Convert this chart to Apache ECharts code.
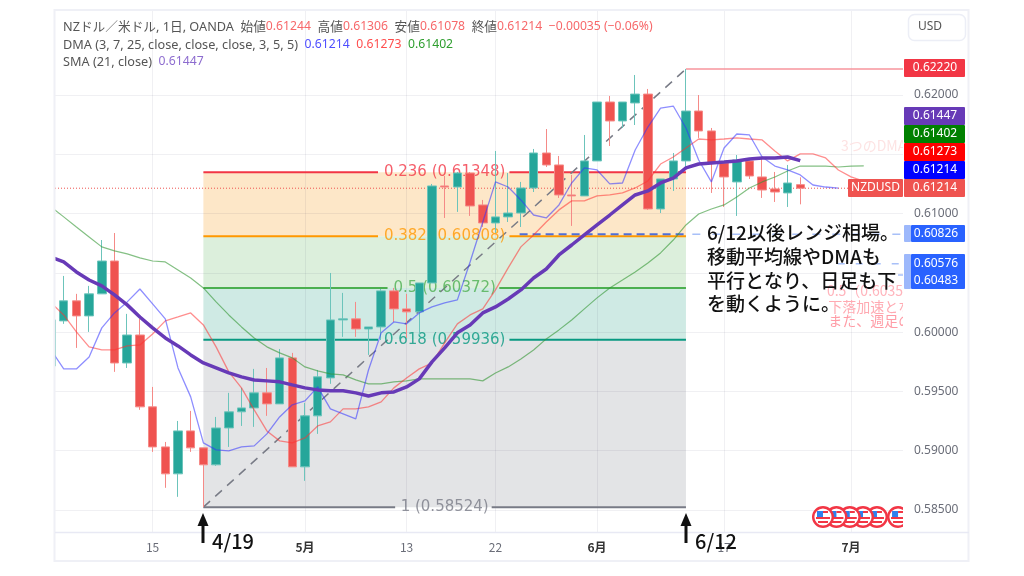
<!DOCTYPE html>
<html>
<head>
<meta charset="utf-8">
<style>
  html, body { margin: 0; padding: 0; background: #fff; }
  #chart { width: 1024px; height: 576px; }
</style>
</head>
<body>
<div id="chart"></div>
<script src="https://cdn.jsdelivr.net/npm/echarts@6/dist/echarts.min.js"></script>
<script>
const FONT = '"Noto Sans", "Noto Sans CJK JP", sans-serif'
const FONT_JP = '"Noto Sans CJK JP", sans-serif'
const FONT_FIB = '"DejaVu Sans", sans-serif'

// 日足 [始値, 終値, 安値, 高値] 横軸はローソク足の番号
const ohlc = [
  [.59715,.60103,.59700,.60110],[.60095,.60264,.60070,.60474],[.60264,.60137,.59867,.60323],[.60137,.60323,.60002,.60390],
  [.60323,.60600,.60323,.60777],[.60600,.59740,.59665,.60836],[.59740,.59976,.59698,.60154],[.59976,.59370,.59345,.60112],
  [.59370,.59032,.58990,.59538],[.59032,.58805,.58687,.59074],[.58805,.59167,.58611,.59251],[.59167,.59024,.58990,.59336],
  [.59024,.58881,.58524,.59024],[.58881,.59192,.58872,.59285],[.59192,.59328,.59032,.59488],[.59328,.59361,.59209,.59530],
  [.59361,.59488,.59201,.59690],[.59488,.59395,.59294,.59698],[.59395,.59783,.59395,.59858],[.59783,.58864,.58864,.59825],
  [.58864,.59294,.58746,.59404],[.59294,.59623,.59142,.59681],[.59614,.60103,.59564,.60499],[.60103,.60112,.59960,.60331],
  [.60112,.60027,.59960,.60255],[.60027,.60044,.59808,.60044],[.60044,.60348,.59934,.60364],[.60348,.60196,.60086,.60373],
  [.60196,.60171,.59951,.60323],[.60171,.60415,.59976,.60415],[.60415,.61233,.60415,.61250],[.61233,.61224,.60963,.61317],
  [.61224,.61342,.61014,.61351],[.61342,.61064,.60980,.61351],[.61073,.60921,.60887,.61115],[.60921,.60972,.60837,.61528],
  [.60972,.61005,.60929,.61342],[.61005,.61216,.60887,.61267],[.61216,.61511,.61182,.61545],[.61511,.61410,.61393,.61713],
  [.61410,.61157,.61132,.61486],[.61157,.61149,.60896,.61326],[.61149,.61444,.61149,.61663],[.61444,.61941,.61444,.61941],
  [.61941,.61781,.61570,.61992],[.61781,.61941,.61722,.61941],[.61933,.62008,.61747,.62169],[.62008,.61039,.61031,.62051],
  [.61039,.61292,.61005,.61292],[.61292,.61444,.61191,.61511],[.61444,.61865,.61393,.62220],[.61865,.61697,.61638,.62000],
  [.61697,.61427,.61174,.61722],[.61427,.61309,.61056,.61427],[.61267,.61452,.60980,.61494],[.61444,.61317,.61292,.61469],
  [.61309,.61199,.61132,.61477],[.61208,.61182,.61098,.61351],[.61174,.61258,.61056,.61410],[.61244,.61214,.61078,.61306]
]

const dmaFast = [
  .59850,.59690,.59690,.59791,.60036,.60162,.60255,.60364,.60238,.60112,.59698,.59454,.59066,.59007,.58999,.59032,
  .59041,.59142,.59285,.59387,.59420,.59538,.59353,.59311,.59269,.59681,.59994,.60086,.60070,.60162,.60213,.60247,
  .60272,.60592,.60929,.61267,.61224,.61115,.60988,.60963,.61073,.61258,.61385,.61368,.61250,.61258,.61536,.61730,
  .61890,.61907,.61722,.61452,.61267,.61553,.61671,.61663,.61477,.61401,.61368,.61326,.61241,.61224,.61214
]
const dmaMid = [
  .60247,.60145,.60002,.59876,.59850,.59850,.59884,.59892,.59985,.60095,.60128,.60162,.60061,.59876,.59665,.59530,
  .59345,.59167,.59083,.59066,.59108,.59209,.59243,.59353,.59353,.59370,.59412,.59530,.59614,.59690,.59740,.59909,
  .60070,.60145,.60196,.60356,.60542,.60719,.60820,.60929,.61031,.61107,.61107,.61149,.61157,.61174,.61216,.61275,
  .61418,.61477,.61553,.61629,.61621,.61629,.61638,.61629,.61621,.61528,.61444,.61503,.61503,.61469,.61368,.61309,.61273
]
const dmaSlow = [
  .61056,.60972,.60887,.60803,.60719,.60685,.60660,.60626,.60600,.60592,.60525,.60457,.60373,.60255,.60145,.60044,
  .59951,.59876,.59825,.59783,.59707,.59673,.59648,.59640,.59597,.59564,.59564,.59581,.59589,.59606,.59606,.59606,
  .59606,.59606,.59589,.59656,.59707,.59774,.59850,.59943,.60019,.60103,.60196,.60289,.60373,.60440,.60508,.60584,
  .60668,.60777,.60904,.60997,.61039,.61073,.61140,.61216,.61267,.61309,.61359,.61401,.61401,.61401,.61393,.61401,.61402
]
const sma21 = [
  .60634,.60592,.60508,.60440,.60390,.60314,.60230,.60128,.60036,.59951,.59884,.59808,.59740,.59698,.59656,.59623,
  .59597,.59589,.59581,.59555,.59530,.59513,.59505,.59505,.59488,.59462,.59488,.59496,.59538,.59606,.59749,.59867,
  .59994,.60061,.60162,.60213,.60280,.60356,.60457,.60533,.60651,.60735,.60820,.60904,.60988,.61073,.61157,.61191,
  .61258,.61300,.61385,.61418,.61427,.61435,.61444,.61460,.61469,.61469,.61477,.61447
]

// フィボナッチ
const fibStart = 12
const fibEnd = 50
const fibPrices = [.61348, .60808, .60372, .59936, .58524]
const fibNames = ['0.236 (0.61348)', '0.382 (0.60808)', '0.5 (0.60372)', '0.618 (0.59936)', '1 (0.58524)']
const fibColors = ['#f23645', '#ff9800', '#4caf50', '#089981', '#787b86']
const fibFills = ['rgba(253,227,190,.85)', 'rgba(214,236,214,.85)', 'rgba(199,230,223,.85)', 'rgba(222,223,226,.85)']
const fibGapFrom = [25.75, 25.75, 26.5, 25.75, 27.1]
const fibGapTo = [36.1, 36.1, 35.3, 36.1, 34.7]
const fibLabelAt = 31
const swingHigh = .6222
const swingLow = .58524

const lastClose = .61214
const lineLevel = .60826
const lineLevel2 = .60576
const lineLevel3 = .60483

const xMin = 0.315
const xMax = 67.09
const yMin = .58306
const yMax = .62717
const priceTicks = [.585, .59, .595, .6, .605, .61, .615, .62]
const dateTicks = [8, 20, 28, 35, 43, 53, 63]
const dateLabels = ['15', '5月', '13', '22', '6月', '17', '7月']

// 経済指標アイコン
const flagAt = [66.7, 65.04, 63.94, 62.9, 61.85, 60.79]
const flagPrice = .58441

// 薄く残っている他の描画のテキスト
const faintNotes = [
  ['3つのDMA', 62.2, .61575, '#fde3e3'],
  ['0.5（0.6035', 61.1, .60347, '#ffb4bc'],
  ['下落加速とな', 61.2, .60212, '#ffaab2'],
  ['また、週足の', 61.2, .60095, '#ff9ca6']
]

// 価格ラベル [テキスト, 背景色, 上端, 下端]
const priceTags = [
  ['0.62220', '#f23645', 59, 77],
  ['0.61447', '#673ab7', 107, 125],
  ['0.61402', '#008000', 125, 143],
  ['0.61273', '#ff0000', 143, 161],
  ['0.61214', '#0000ff', 161, 179],
  ['0.61214', '#ef5350', 179, 197]
]

const noteLines = ['6/12以後レンジ相場。', '移動平均線やDMAも', '平行となり、日足も下', 'を動くように。']
const noteTops = [233, 257, 281, 304]

const indexed = arr => arr.map((v, i) => [i, v])

function fibSeries () {
  const list = []
  // 帯は線の下に敷く
  list.push({
    type: 'line',
    data: [],
    z: 1,
    silent: true,
    markArea: {
      silent: true,
      z: 1,
      data: fibFills.map((color, i) => [
        { coord: [fibStart, fibPrices[i]], itemStyle: { color: color, opacity: 1 } },
        { coord: [fibEnd, fibPrices[i + 1]] }
      ])
    }
  })
  fibPrices.forEach((p, i) => {
    const lineStyle = { color: fibColors[i], width: 2 }
    const base = { type: 'line', showSymbol: false, silent: true, z: 3, lineStyle: lineStyle }
    list.push(Object.assign({}, base, { data: [[fibStart, p], [fibGapFrom[i], p]] }))
    list.push(Object.assign({}, base, { data: [[fibGapTo[i], p], [fibEnd, p]] }))
  })
  list.push({
    type: 'scatter',
    symbolSize: 0,
    silent: true,
    z: 3,
    data: fibPrices.map((p, i) => ({
      name: fibNames[i],
      value: [fibLabelAt, p],
      label: { color: fibColors[i] }
    })),
    label: { show: true, position: 'inside', formatter: '{b}', fontSize: 15, fontFamily: FONT_FIB }
  })
  return list
}

function flatLine (data, color, width, dash) {
  return {
    type: 'line',
    data: data,
    showSymbol: false,
    silent: true,
    z: 3,
    lineStyle: { color: color, width: width, type: dash }
  }
}

function trendLine (values, color, width, z) {
  return {
    type: 'line',
    data: indexed(values),
    showSymbol: false,
    silent: true,
    z: z,
    lineStyle: { color: color, width: width }
  }
}

function renderFlag (params, api) {
  const pt = api.coord([api.value(0), api.value(1)])
  const x = pt[0]
  const y = pt[1]
  const red = '#f23645'
  const rect = (rx, ry, w, h, fill) => ({ type: 'rect', shape: { x: rx, y: ry, width: w, height: h }, style: { fill: fill } })
  return {
    type: 'group',
    children: [
      { type: 'circle', shape: { cx: x, cy: y, r: 9.8 }, style: { fill: '#fff', stroke: red, lineWidth: 2.4 } },
      rect(x - 6, y - 6, 6, 6, '#2f80ed'),
      rect(x, y - 6, 5, 2, red),
      rect(x - 7, y, 14, 2, red),
      rect(x - 5, y + 4, 10, 2, red)
    ]
  }
}

function renderNote (params, api) {
  const pt = api.coord([api.value(1), api.value(2)])
  const note = faintNotes[params.dataIndex]
  return {
    type: 'text',
    x: pt[0],
    y: pt[1],
    style: { text: note[0], fill: note[3], font: '14px ' + FONT_JP, textAlign: 'left', textVerticalAlign: 'middle' }
  }
}

function legendText () {
  return [
    {
      x: 63, y: 27,
      text: 'NZドル／米ドル, 1日, OANDA  始値{r|0.61244}  高値{r|0.61306}  安値{r|0.61078}  終値{r|0.61214}  {r|−0.00035 (−0.06%)}'
    },
    {
      x: 63, y: 45,
      text: 'DMA (3, 7, 25, close, close, close, 3, 5, 5)  {b|0.61214}  {r2|0.61273}  {g|0.61402}'
    },
    {
      x: 63, y: 62,
      text: 'SMA (21, close)  {p|0.61447}'
    }
  ].map(row => ({
    type: 'text',
    x: row.x,
    y: row.y,
    z: 20,
    style: {
      text: row.text,
      fill: '#555',
      font: '12.7px ' + FONT,
      verticalAlign: 'middle',
      rich: {
        r: { fill: '#f7686a', font: '12.2px ' + FONT },
        r2: { fill: '#ff4d4d', font: '12.2px ' + FONT },
        b: { fill: '#4d4dff', font: '12.2px ' + FONT },
        g: { fill: '#2e9e2e', font: '12.2px ' + FONT },
        p: { fill: '#8d6ccf', font: '12.2px ' + FONT }
      }
    }
  }))
}

function tagBox (x, y, w, h, fill) {
  return { type: 'rect', z: 20, shape: { x: x, y: y, width: w, height: h, r: 1 }, style: { fill: fill } }
}

function tagText (text, cx, cy, fill) {
  return {
    type: 'text', z: 21, x: cx, y: cy,
    style: { text: text, fill: fill || '#fff', font: '12px ' + FONT, align: 'center', verticalAlign: 'middle' }
  }
}

function arrow (x) {
  return [
    { type: 'rect', z: 22, shape: { x: x - 1.5, y: 522, width: 3, height: 21 }, style: { fill: '#111' } },
    { type: 'polygon', z: 22, shape: { points: [[x, 513], [x - 5.5, 526], [x + 5.5, 526]] }, style: { fill: '#111' } }
  ]
}

function bigText (text, x, y, size) {
  return {
    type: 'text', z: 22, x: x, y: y,
    style: { text: text, fill: '#111', font: '500 ' + size + 'px ' + FONT_JP, verticalAlign: 'middle' }
  }
}

function graphics () {
  let list = [
    // 左端で切れるローソク足を隠す
    { type: 'rect', z: 17, shape: { x: 40, y: 250, width: 14, height: 150 }, style: { fill: '#fff' } },
    // 外枠
    { type: 'rect', z: 18, shape: { x: 54.5, y: 10, width: 914, height: 551 }, style: { fill: 'none', stroke: '#eff0f6', lineWidth: 2 } },
    { type: 'line', z: 18, shape: { x1: 55, y1: 532.5, x2: 969, y2: 532.5 }, style: { stroke: '#e8e9f4', lineWidth: 1.5 } },
    // USD ボタン
    { type: 'rect', z: 20, shape: { x: 908.5, y: 14.5, width: 57, height: 26, r: 6 }, style: { fill: '#fff', stroke: '#eceef6', lineWidth: 1.5 } },
    { type: 'text', z: 21, x: 918, y: 27, style: { text: 'USD', fill: '#555', font: '12px ' + FONT, verticalAlign: 'middle' } }
  ]
  list = list.concat(legendText())
  priceTags.forEach(t => {
    list.push(tagBox(904, t[2], 61, t[3] - t[2], t[1]))
    list.push(tagText(t[0], 935, (t[2] + t[3]) / 2))
  })
  // NZDUSD
  list.push(tagBox(848, 179, 55, 18, '#ef5350'))
  list.push(tagText('NZDUSD', 875.5, 188))
  // 0.60826 / 0.60576 / 0.60483
  list.push(tagBox(904, 225, 7, 17, '#9db8fb'))
  list.push(tagBox(911, 225, 54, 17, '#2962ff'))
  list.push(tagText('0.60826', 936, 233.5))
  list.push(tagBox(904, 254, 7, 35, '#9db8fb'))
  list.push(tagBox(911, 254, 54, 35, '#2962ff'))
  list.push(tagText('0.60576', 936, 264))
  list.push(tagText('0.60483', 936, 281))
  // 書き込み
  noteLines.forEach((t, i) => list.push(bigText(t, 707, noteTops[i], 19)))
  list = list.concat(arrow(203), arrow(686))
  list.push(bigText('4/19', 212, 541, 20))
  list.push(bigText('6/12', 695, 541, 20))
  return list
}

const gridLine = { color: 'rgba(42,46,90,.07)', width: 1 }

const option = {
  animation: false,
  backgroundColor: '#fff',
  textStyle: { fontFamily: FONT },
  grid: { left: 55, right: 121, top: 10, bottom: 43 },
  xAxis: {
    type: 'value',
    min: xMin,
    max: xMax,
    z: 2,
    axisLine: { show: false },
    axisTick: { show: false, customValues: dateTicks },
    axisLabel: {
      customValues: dateTicks,
      margin: 8,
      color: '#6a6d78',
      fontSize: 12,
      fontFamily: FONT_JP,
      formatter: v => {
        const label = dateLabels[dateTicks.indexOf(v)]
        return label.indexOf('月') > 0 ? '{m|' + label + '}' : label
      },
      rich: { m: { fontWeight: 'bold', color: '#333', fontSize: 12, fontFamily: FONT_JP } }
    },
    splitLine: { show: true, customValues: dateTicks, lineStyle: gridLine }
  },
  yAxis: {
    type: 'value',
    position: 'right',
    min: yMin,
    max: yMax,
    z: 2,
    axisLine: { show: false },
    axisTick: { show: false, customValues: priceTicks },
    axisLabel: {
      customValues: priceTicks,
      margin: 11,
      color: '#6a6d78',
      fontSize: 12,
      fontFamily: FONT,
      formatter: v => v.toFixed(5)
    },
    splitLine: { show: true, customValues: priceTicks, lineStyle: gridLine }
  },
  series: [
    ...fibSeries(),
    flatLine([[fibStart, swingLow], [fibEnd, swingHigh]], '#787b86', 1.5, [9, 7]),
    flatLine([[fibEnd, swingHigh], [xMax, swingHigh]], '#f7959c', 1.5, 'solid'),
    flatLine([[xMin, lastClose], [62.76, lastClose]], '#ef5350', 1, [1, 2]),
    flatLine([[36.9, lineLevel], [50.2, lineLevel]], '#4f6fd8', 2, [8, 5]),
    flatLine([[50.5, lineLevel], [xMax, lineLevel]], '#a8c0f8', 1.5, [8, 12]),
    flatLine([[61.95, lineLevel2], [xMax, lineLevel2]], '#a8c0f8', 1.5, [7, 11]),
    flatLine([[66.7, lineLevel3], [xMax, lineLevel3]], '#a8c0f8', 1.5, [7, 11]),
    {
      type: 'candlestick',
      z: 4,
      silent: true,
      barWidth: 9,
      data: ohlc.map((d, i) => [i].concat(d)),
      itemStyle: {
        color: '#26a69a',
        color0: '#ef5350',
        borderColor: '#6cc4bb',
        borderColor0: '#f58a87',
        borderWidth: 1
      }
    },
    trendLine(dmaSlow, 'rgba(50,150,50,.6)', 1.2, 5),
    trendLine(dmaMid, 'rgba(255,50,50,.55)', 1.3, 5),
    trendLine(dmaFast, 'rgba(50,50,255,.55)', 1.3, 5),
    trendLine(sma21, '#673ab7', 3.5, 6),
    {
      type: 'custom',
      silent: true,
      z: 7,
      clip: true,
      renderItem: renderFlag,
      data: flagAt.map(x => [x, flagPrice])
    },
    {
      type: 'custom',
      silent: true,
      z: 3,
      clip: true,
      renderItem: renderNote,
      encode: { x: 1, y: 2 },
      data: faintNotes.map(n => [n[0], n[1], n[2]])
    }
  ],
  graphic: graphics()
}

const chart = echarts.init(document.getElementById('chart'), null, { renderer: 'canvas' })
chart.setOption(option)
</script>
</body>
</html>
